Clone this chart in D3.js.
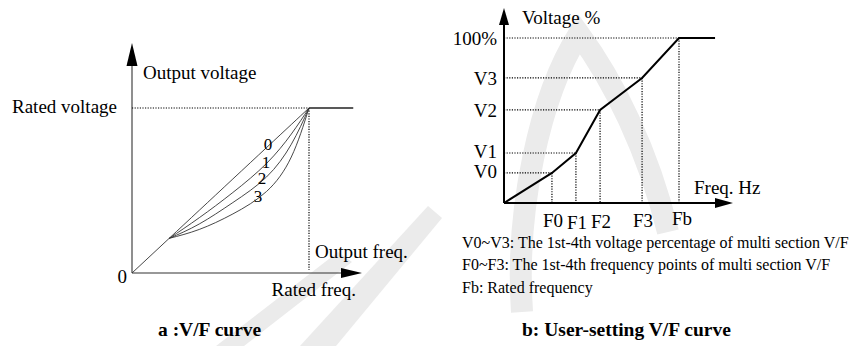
<!DOCTYPE html>
<html><head><meta charset="utf-8">
<script src="https://cdn.jsdelivr.net/npm/d3@7"></script>
<style>
body{margin:0;background:#fff;}
svg{display:block;font-family:"Liberation Serif","Times New Roman",serif;}
</style></head><body>
<svg id="c" width="855" height="346"></svg>
<script>
// ---------- Left chart (a): values as fraction of rated freq / rated voltage ----------
const leftCurveNames = ["0", "1", "2", "3"];
const leftFreq   = [0.21, 0.38, 0.57, 0.76, 0.90, 1.0];
const leftCurve0 = [0.21, 0.38, 0.57, 0.76, 0.90, 1.0];
const leftCurve1 = [0.21, 0.335, 0.488, 0.664, 0.842, 1.0];
const leftCurve2 = [0.21, 0.297, 0.427, 0.582, 0.78, 1.0];
const leftCurve3 = [0.21, 0.264, 0.358, 0.494, 0.703, 1.0];
const leftRatedEnd = 1.25;           // flat part after rated freq
const leftLabelF = [0.768, 0.757, 0.735, 0.712];
const leftLabelV = [0.78, 0.67, 0.575, 0.465];

// ---------- Right chart (b): user-setting V/F ----------
const rightFreqLabels = ["F0", "F1", "F2", "F3", "Fb"];
const rightFreq = [27.4, 41.1, 54.9, 78.9, 100];      // % of Fb
const rightVoltLabels = ["V0", "V1", "V2", "V3", "100%"];
const rightVolt = [18.2, 30.3, 56.4, 75.8, 100];      // %
const rightFlatEnd = 120.6;

const notes = [
  "V0~V3: The 1st-4th voltage percentage of multi section V/F",
  "F0~F3: The 1st-4th frequency points of multi section V/F",
  "Fb: Rated frequency"
];
const titles = ["a :V/F curve", "b: User-setting V/F curve"];

const svg = d3.select("#c");

// ---------- faint background watermark (decoration) ----------
const wm = svg.append("g").attr("fill", "#ebebeb").attr("stroke", "none");
wm.append("path").attr("d", "M216,346 L244,346 L352,262 L338,252 Z");
wm.append("path").attr("d", "M300,346 L336,346 L442,218 L428,206 Z");
wm.append("path").attr("d", "M522,312 C515,210 540,95 579,34 C613,80 648,150 668,232")
  .attr("fill", "none").attr("stroke", "#ebebeb").attr("stroke-width", 22).attr("stroke-linejoin", "miter");

// ================= LEFT =================
const xL = d3.scaleLinear().domain([0, 1]).range([132, 309]);
const yL = d3.scaleLinear().domain([0, 1]).range([273, 108]);
const gL = svg.append("g");

// axes
gL.append("line").attr("x1", xL(0)).attr("y1", yL(0)).attr("x2", xL(0)).attr("y2", 60)
  .attr("stroke", "#333").attr("stroke-width", 1.1);
gL.append("path").attr("d", `M${xL(0)},43 L${xL(0)-5.5},66 L${xL(0)+5.5},66 Z`).attr("fill", "#000");
gL.append("line").attr("x1", xL(0)).attr("y1", yL(0)).attr("x2", 345).attr("y2", yL(0))
  .attr("stroke", "#333").attr("stroke-width", 1.1);
gL.append("path").attr("d", `M362,${yL(0)} L341,${yL(0)-5} L341,${yL(0)+5} Z`).attr("fill", "#000");

// dotted guides
gL.append("line").attr("x1", xL(0)).attr("x2", xL(1)).attr("y1", yL(1)).attr("y2", yL(1))
  .attr("stroke", "#000").attr("stroke-width", 1.2).attr("stroke-dasharray", "1.2,1.4");
gL.append("line").attr("x1", xL(1)).attr("x2", xL(1)).attr("y1", yL(1)).attr("y2", yL(0) - 3)
  .attr("stroke", "#000").attr("stroke-width", 1.2).attr("stroke-dasharray", "1.2,1.4");
// flat part
gL.append("line").attr("x1", xL(1)).attr("x2", xL(leftRatedEnd)).attr("y1", yL(1)).attr("y2", yL(1))
  .attr("stroke", "#222").attr("stroke-width", 1.3);

// origin -> knee segment
gL.append("line").attr("x1", xL(0)).attr("y1", yL(0)).attr("x2", xL(leftFreq[0])).attr("y2", yL(leftCurve0[0]))
  .attr("stroke", "#333").attr("stroke-width", 0.9);

const curves = [leftCurve0, leftCurve1, leftCurve2, leftCurve3];
const lineL = d3.line().x(d => xL(d[0])).y(d => yL(d[1])).curve(d3.curveNatural);
curves.forEach(c => {
  gL.append("path").attr("d", lineL(leftFreq.map((f, i) => [f, c[i]])))
    .attr("fill", "none").attr("stroke", "#333").attr("stroke-width", 0.9);
});
leftCurveNames.forEach((n, i) => {
  gL.append("text").attr("x", xL(leftLabelF[i])).attr("y", yL(leftLabelV[i]) + 6)
    .attr("text-anchor", "middle").attr("font-size", 17).text(n);
});

gL.append("text").attr("x", 117).attr("y", yL(1) + 5).attr("text-anchor", "end").attr("font-size", 19).text("Rated voltage");
gL.append("text").attr("x", 143).attr("y", 79).attr("font-size", 19).text("Output voltage");
gL.append("text").attr("x", 127).attr("y", 283).attr("text-anchor", "end").attr("font-size", 19).text("0");
gL.append("text").attr("x", 315).attr("y", 258).attr("font-size", 19).text("Output freq.");
gL.append("text").attr("x", 356).attr("y", 296).attr("text-anchor", "end").attr("font-size", 19).text("Rated freq.");

// ================= RIGHT =================
const xR = d3.scaleLinear().domain([0, 100]).range([504, 679]);
const yR = d3.scaleLinear().domain([0, 100]).range([203, 38]);
const gR = svg.append("g");

rightVolt.forEach((v, i) => {
  gR.append("line").attr("x1", xR(0)).attr("x2", xR(rightFreq[i])).attr("y1", yR(v)).attr("y2", yR(v))
    .attr("stroke", "#000").attr("stroke-width", 1.2).attr("stroke-dasharray", "1.2,1.4");
  gR.append("line").attr("x1", xR(rightFreq[i])).attr("x2", xR(rightFreq[i])).attr("y1", yR(v)).attr("y2", yR(0))
    .attr("stroke", "#000").attr("stroke-width", 1.2).attr("stroke-dasharray", "1.2,1.4");
});

// axes
gR.append("line").attr("x1", xR(0)).attr("y1", yR(0)).attr("x2", xR(0)).attr("y2", 20)
  .attr("stroke", "#000").attr("stroke-width", 2);
gR.append("path").attr("d", `M${xR(0)},8 L${xR(0)-5},25 L${xR(0)+5},25 Z`).attr("fill", "#000");
gR.append("line").attr("x1", xR(0)).attr("y1", yR(0)).attr("x2", 720).attr("y2", yR(0))
  .attr("stroke", "#000").attr("stroke-width", 2);
gR.append("path").attr("d", `M733,${yR(0)} L715,${yR(0)-5} L715,${yR(0)+5} Z`).attr("fill", "#000");

const pts = [[0, 0]].concat(rightFreq.map((f, i) => [f, rightVolt[i]])).concat([[rightFlatEnd, 100]]);
gR.append("path").attr("d", d3.line().x(d => xR(d[0])).y(d => yR(d[1]))(pts))
  .attr("fill", "none").attr("stroke", "#000").attr("stroke-width", 2).attr("stroke-linejoin", "miter");

rightVoltLabels.forEach((l, i) => {
  gR.append("text").attr("x", 497).attr("y", yR(rightVolt[i]) + (i < 2 ? 5 : 7))
    .attr("text-anchor", "end").attr("font-size", 19).text(l);
});
const fLabelDy = [24, 26, 25, 24, 22];
rightFreqLabels.forEach((l, i) => {
  gR.append("text").attr("x", xR(rightFreq[i]) + (i === 4 ? 3 : 1)).attr("y", yR(0) + fLabelDy[i])
    .attr("text-anchor", "middle").attr("font-size", 19).text(l);
});
gR.append("text").attr("x", 522).attr("y", 24).attr("font-size", 19).text("Voltage %");
gR.append("text").attr("x", 694).attr("y", 194).attr("font-size", 19).text("Freq. Hz");

// notes
const noteY = [248, 270, 293];
notes.forEach((t, i) => {
  svg.append("text").attr("x", 462).attr("y", noteY[i]).attr("font-size", 16).text(t);
});

// titles
svg.append("text").attr("x", 158).attr("y", 336).attr("font-size", 19.5).attr("font-weight", "bold").text(titles[0]);
svg.append("text").attr("x", 522).attr("y", 336).attr("font-size", 19.5).attr("font-weight", "bold").text(titles[1]);
</script>
</body></html>
